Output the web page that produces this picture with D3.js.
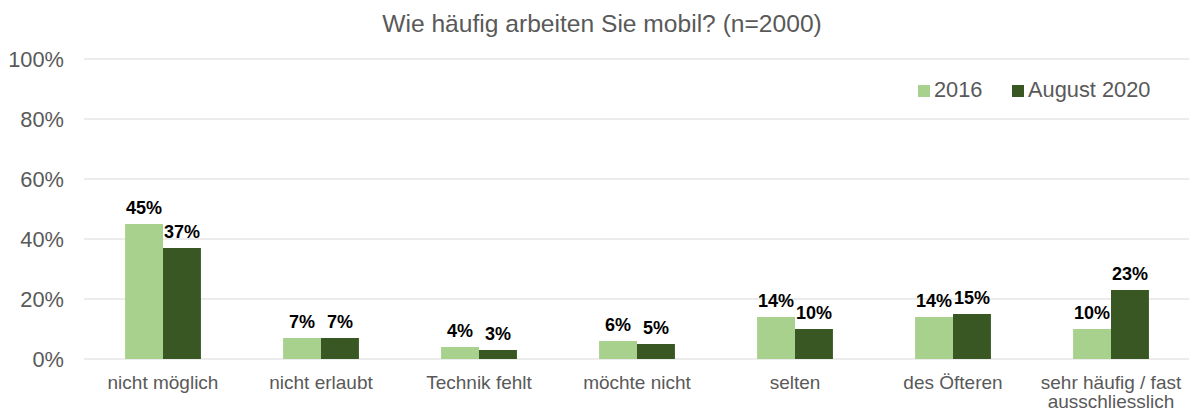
<!DOCTYPE html>
<html>
<head>
<meta charset="utf-8">
<script src="https://cdn.jsdelivr.net/npm/d3@7"></script>
<style>
  body { margin: 0; background: #fff; }
  text { font-family: "Liberation Sans", Arial, sans-serif; }
</style>
</head>
<body>
<div class="canvas"></div>
<script>
var categories = ["nicht möglich", "nicht erlaubt", "Technik fehlt", "möchte nicht", "selten", "des Öfteren", "sehr häufig / fast|ausschliesslich"];
var seriesNames = ["2016", "August 2020"];
var values2016 = [45, 7, 4, 6, 14, 14, 10];
var values2020 = [37, 7, 3, 5, 10, 15, 23];
var yTicks = [0, 20, 40, 60, 80, 100];
var colors = ["#a9d18e", "#385723"];

var width = 1189, height = 412;
var svg = d3.select(".canvas").append("svg")
    .attr("width", width)
    .attr("height", height);

var x = d3.scaleBand()
    .domain(categories)
    .range([84, 1190])
    .paddingInner(0.52)
    .paddingOuter(0.26);

var x1 = d3.scaleBand()
    .domain(seriesNames)
    .range([0, x.bandwidth()]);

var y = d3.scaleLinear()
    .domain([0, 100])
    .range([359, 59]);

// title
svg.append("text")
    .attr("x", 602)
    .attr("y", 32)
    .attr("text-anchor", "middle")
    .attr("fill", "#595959")
    .style("font-size", "24.6px")
    .text("Wie häufig arbeiten Sie mobil? (n=2000)");

// gridlines
svg.append("g")
    .selectAll("line")
    .data(yTicks)
    .enter().append("line")
    .attr("x1", 84)
    .attr("x2", 1189)
    .attr("y1", d => y(d))
    .attr("y2", d => y(d))
    .attr("stroke", "#d9d9d9")
    .attr("stroke-width", 1.2);

// y labels
svg.append("g")
    .selectAll("text")
    .data(yTicks)
    .enter().append("text")
    .attr("x", 64)
    .attr("y", d => y(d) + 8)
    .attr("text-anchor", "end")
    .attr("fill", "#595959")
    .style("font-size", "21.8px")
    .text(d => d + "%");

var rows = categories.map((c, i) => ({ cat: c, vals: [values2016[i], values2020[i]] }));

var groups = svg.append("g")
    .selectAll("g")
    .data(rows)
    .enter().append("g")
    .attr("transform", d => "translate(" + x(d.cat) + ",0)");

groups.selectAll("rect")
    .data(d => d.vals.map((v, j) => ({ name: seriesNames[j], v: v })))
    .enter().append("rect")
    .attr("x", d => x1(d.name))
    .attr("width", x1.bandwidth())
    .attr("y", d => y(d.v))
    .attr("height", d => y(0) - y(d.v))
    .attr("fill", (d, j) => colors[j]);

groups.selectAll("text.lab")
    .data(d => d.vals.map((v, j) => ({ name: seriesNames[j], v: v })))
    .enter().append("text")
    .attr("class", "lab")
    .attr("x", d => x1(d.name) + x1.bandwidth() / 2)
    .attr("y", d => y(d.v) - 10)
    .attr("text-anchor", "middle")
    .attr("fill", "#000")
    .style("font-size", "18px")
    .style("font-weight", "bold")
    .text(d => d.v + "%");

// x labels
var xl = svg.append("g")
    .selectAll("text")
    .data(categories)
    .enter().append("text")
    .attr("x", d => x(d) + x.bandwidth() / 2)
    .attr("y", 389)
    .attr("text-anchor", "middle")
    .attr("fill", "#595959")
    .style("font-size", "19px");

xl.selectAll("tspan")
    .data(d => d.split("|"))
    .enter().append("tspan")
    .attr("x", function () { return d3.select(this.parentNode).attr("x"); })
    .attr("dy", (d, i) => i === 0 ? 0 : 19)
    .text(d => d);

// legend
var legend = svg.append("g")
    .selectAll("g")
    .data(seriesNames)
    .enter().append("g")
    .attr("transform", (d, i) => "translate(" + [918, 1012][i] + ",85)");

legend.append("rect")
    .attr("width", 12)
    .attr("height", 12)
    .attr("fill", (d, i) => colors[i]);

legend.append("text")
    .attr("x", 16)
    .attr("y", 12)
    .attr("fill", "#595959")
    .style("font-size", "21.8px")
    .text(d => d);
</script>
</body>
</html>
